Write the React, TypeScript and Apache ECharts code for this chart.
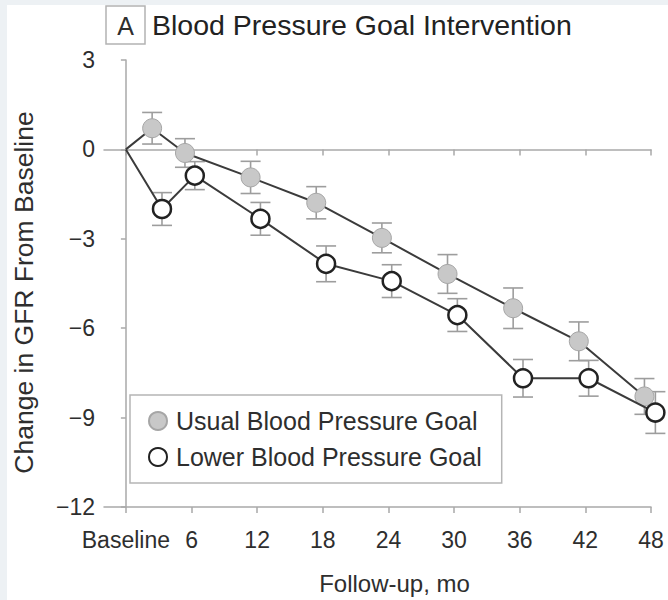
import React, { useEffect, useRef } from "react";
import * as echarts from "echarts";

// Follow-up months (points are slightly dodged left/right in the figure)
const usualMonths = [0, 2.4, 5.4, 11.4, 17.4, 23.4, 29.4, 35.4, 41.4, 47.4];
const lowerMonths = [0, 3.3, 6.3, 12.3, 18.3, 24.3, 30.3, 36.3, 42.3, 48.4];

// Mean change in GFR from baseline
const usualValues = [0, 0.71, -0.12, -0.94, -1.79, -2.97, -4.18, -5.33, -6.44, -8.29];
const lowerValues = [0, -2.0, -0.88, -2.33, -3.84, -4.42, -5.56, -7.68, -7.68, -8.83];

// Error bar half-widths
const usualErrors = [0, 0.53, 0.48, 0.54, 0.54, 0.5, 0.65, 0.68, 0.65, 0.6];
const lowerErrors = [0, 0.55, 0.47, 0.55, 0.6, 0.55, 0.55, 0.63, 0.6, 0.7];

// Axis ticks
const xTickValues = [0, 6, 12, 18, 24, 30, 36, 42, 48];
const xTickLabels = ["Baseline", "6", "12", "18", "24", "30", "36", "42", "48"];

const seriesNames = ["Usual Blood Pressure Goal", "Lower Blood Pressure Goal"];
const titleLetter = "A";
const titleText = "Blood Pressure Goal Intervention";
const yAxisName = "Change in GFR From Baseline";
const xAxisName = "Follow-up, mo";

const FONT = "'Liberation Sans', Arial, Helvetica, sans-serif";
const AXIS_COLOR = "#a9a9a9";
const TEXT_COLOR = "#2e2e2e";

function buildPoints(months: number[], values: number[]) {
  return months.map((m, i) =>
    i === 0 ? { value: [m, values[i]], symbol: "none" } : { value: [m, values[i]] }
  );
}

function buildErrors(months: number[], values: number[], errs: number[]) {
  const out: number[][] = [];
  months.forEach((m, i) => {
    if (errs[i] > 0) out.push([m, values[i], errs[i]]);
  });
  return out;
}

function errorRender(params: any, api: any) {
  const x = api.value(0);
  const y = api.value(1);
  const e = api.value(2);
  const top = api.coord([x, y + e]);
  const bot = api.coord([x, y - e]);
  const half = 10;
  const style = { stroke: "#9d9d9d", lineWidth: 1.6 };
  return {
    type: "group",
    children: [
      { type: "line", shape: { x1: top[0], y1: top[1], x2: bot[0], y2: bot[1] }, style },
      { type: "line", shape: { x1: top[0] - half, y1: top[1], x2: top[0] + half, y2: top[1] }, style },
      { type: "line", shape: { x1: bot[0] - half, y1: bot[1], x2: bot[0] + half, y2: bot[1] }, style },
    ],
  };
}

export default function App() {
  const ref = useRef<HTMLDivElement>(null);

  useEffect(() => {
    document.body.style.margin = "0";
    if (!ref.current) return;
    const chart = echarts.init(ref.current, null, { renderer: "svg" });

    const xAxisCommon = {
      type: "value",
      min: -2,
      max: 48,
      splitLine: { show: false },
      axisLine: { lineStyle: { color: AXIS_COLOR, width: 1.5 } },
      axisTick: {
        show: true,
        length: 6,
        customValues: xTickValues,
        lineStyle: { color: AXIS_COLOR, width: 1.5 },
      },
    };

    chart.setOption({
      animation: false,
      textStyle: { fontFamily: FONT },
      grid: { left: 104, right: 17, top: 60, bottom: 93, containLabel: false },
      graphic: [
        {
          type: "rect",
          shape: { x: 106, y: 6, width: 39, height: 38 },
          style: { fill: "#fff", stroke: "#b3b3b3", lineWidth: 1.5 },
        },
        {
          type: "text",
          x: 125.5,
          y: 26,
          style: {
            text: titleLetter,
            fontSize: 25,
            fontFamily: FONT,
            fill: TEXT_COLOR,
            align: "center",
            verticalAlign: "middle",
          },
        },
        {
          type: "text",
          x: 152,
          y: 25,
          style: {
            text: titleText,
            fontSize: 28.5,
            fontFamily: FONT,
            fill: "#222",
            align: "left",
            verticalAlign: "middle",
          },
        },
      ],
      legend: {
        orient: "vertical",
        left: 130,
        top: 395,
        padding: [13, 20, 13, 18],
        itemGap: 10,
        itemWidth: 18,
        itemHeight: 18,
        borderColor: "#b5b5b5",
        borderWidth: 1.5,
        backgroundColor: "#fff",
        textStyle: {
          fontSize: 25,
          color: TEXT_COLOR,
          fontFamily: FONT,
          lineHeight: 26,
          padding: [0, 0, 0, 4],
        },
        data: [
          { name: seriesNames[0], icon: "circle" },
          { name: seriesNames[1], icon: "circle" },
        ],
      },
      xAxis: [
        {
          ...xAxisCommon,
          position: "bottom",
          axisLine: { ...xAxisCommon.axisLine, onZero: false },
          name: xAxisName,
          nameLocation: "middle",
          nameGap: 64,
          nameTextStyle: { fontSize: 24, color: TEXT_COLOR, padding: [0, 0, 0, 34] },
          axisLabel: {
            show: true,
            customValues: xTickValues,
            margin: 21,
            fontSize: 23,
            color: TEXT_COLOR,
            formatter: (v: number) => xTickLabels[xTickValues.indexOf(v)] ?? "",
          },
        },
        {
          ...xAxisCommon,
          position: "bottom",
          axisLine: { ...xAxisCommon.axisLine, onZero: true },
          axisLabel: { show: false },
        },
      ],
      yAxis: {
        type: "value",
        min: -12,
        max: 3,
        interval: 3,
        splitLine: { show: false },
        axisLine: { show: true, lineStyle: { color: AXIS_COLOR, width: 1.5 } },
        axisTick: { show: true, length: 5, lineStyle: { color: AXIS_COLOR, width: 1.5 } },
        axisLabel: {
          fontSize: 23,
          color: TEXT_COLOR,
          margin: 9,
          formatter: (v: number) => (v < 0 ? "\u2212" + Math.abs(v) : String(v)),
        },
        name: yAxisName,
        nameLocation: "middle",
        nameGap: 67,
        nameTextStyle: { fontSize: 26.5, color: TEXT_COLOR, padding: [0, 18, 0, 0] },
      },
      series: [
        {
          type: "custom",
          name: "usualErr",
          renderItem: errorRender,
          data: buildErrors(usualMonths, usualValues, usualErrors),
          encode: { x: 0, y: 1 },
          z: 1,
          silent: true,
        },
        {
          type: "custom",
          name: "lowerErr",
          renderItem: errorRender,
          data: buildErrors(lowerMonths, lowerValues, lowerErrors),
          encode: { x: 0, y: 1 },
          z: 1,
          silent: true,
        },
        {
          type: "line",
          name: seriesNames[0],
          data: buildPoints(usualMonths, usualValues),
          symbol: "circle",
          symbolSize: 19,
          clip: false,
          z: 3,
          lineStyle: { color: "#3b3b3b", width: 2 },
          itemStyle: { color: "#c8c8c8", borderColor: "#a6a6a6", borderWidth: 1 },
        },
        {
          type: "line",
          name: seriesNames[1],
          data: buildPoints(lowerMonths, lowerValues),
          symbol: "circle",
          symbolSize: 18,
          clip: false,
          z: 4,
          lineStyle: { color: "#3b3b3b", width: 2 },
          itemStyle: { color: "#ffffff", borderColor: "#222222", borderWidth: 2.5 },
        },
      ],
    });

    return () => chart.dispose();
  }, []);

  return (
    <div style={{ position: "relative", width: 668, height: 600, background: "#edf1f4" }}>
      <div style={{ position: "absolute", left: 7, top: 5, right: 0, bottom: 0, background: "#fff" }} />
      <div ref={ref} style={{ position: "absolute", left: 0, top: 0, width: 668, height: 600 }} />
    </div>
  );
}
